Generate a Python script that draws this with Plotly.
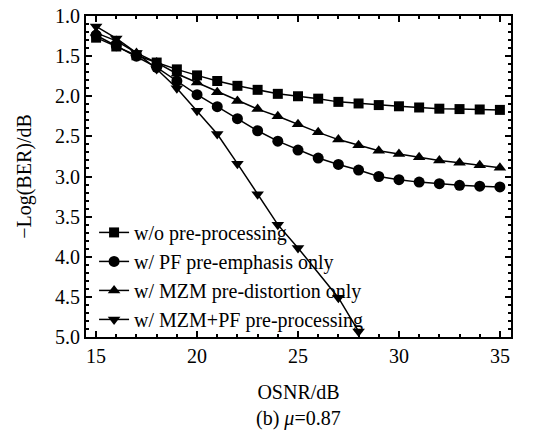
import plotly.graph_objects as go

osnr = list(range(15, 36))

wo_pre = [1.27, 1.38, 1.49, 1.58, 1.665, 1.74, 1.81, 1.87, 1.92, 1.97, 2.00, 2.03,
          2.07, 2.09, 2.11, 2.125, 2.14, 2.155, 2.16, 2.165, 2.17]
pf_only = [1.24, 1.37, 1.50, 1.64, 1.81, 1.98, 2.13, 2.28, 2.43, 2.56, 2.67, 2.77,
           2.85, 2.92, 3.00, 3.04, 3.07, 3.09, 3.11, 3.12, 3.13]
mzm_only = [1.21, 1.31, 1.46, 1.58, 1.72, 1.83, 1.95, 2.06, 2.16, 2.25, 2.35, 2.45,
            2.54, 2.61, 2.68, 2.72, 2.76, 2.80, 2.83, 2.86, 2.89]
mzm_pf_x = [15, 16, 17, 18, 19, 20, 21, 22, 23, 24, 25, 26, 27, 28]
mzm_pf = [1.13, 1.28, 1.46, 1.66, 1.90, 2.18, 2.47, 2.84, 3.22, 3.60, 3.89, None, 4.51, 4.93]

names = ["w/o pre-processing", "w/ PF pre-emphasis only",
         "w/ MZM pre-distortion only", "w/ MZM+PF pre-processing"]
symbols = ["square", "circle", "triangle-up", "triangle-down"]

FONT = "Liberation Serif, Times New Roman, serif"
fig = go.Figure()
series = [(osnr, wo_pre), (osnr, pf_only), (osnr, mzm_only), (mzm_pf_x, mzm_pf)]
for (xs, ys), nm, sym in zip(series, names, symbols):
    fig.add_trace(go.Scatter(
        x=xs, y=ys, name=nm, mode="lines+markers", connectgaps=True,
        line=dict(color="black", width=1.5),
        marker=dict(symbol=sym, size=11 if sym != "square" else 10, color="black"),
    ))

axis_common = dict(
    showline=True, linecolor="black", linewidth=2, mirror="allticks",
    ticks="inside", ticklen=6, tickwidth=1.5, tickcolor="black",
    showgrid=False, zeroline=False, automargin=False,
    tickfont=dict(family=FONT, size=20, color="black"),
)
fig.update_xaxes(range=[14.5, 35.55], tickvals=[15, 20, 25, 30, 35],
                 minor=dict(dtick=1, tick0=15, ticks="inside", ticklen=3, tickcolor="black", tickwidth=1.5),
                 title=dict(text="OSNR/dB", font=dict(family=FONT, size=20, color="black"), standoff=19),
                 **axis_common)
fig.update_yaxes(range=[5.0, 1.0], tickvals=[1.0, 1.5, 2.0, 2.5, 3.0, 3.5, 4.0, 4.5, 5.0],
                 tickformat=".1f",
                 minor=dict(dtick=0.1, tick0=1.0, ticks="inside", ticklen=3, tickcolor="black", tickwidth=1.5),
                 title=dict(text="−Log(BER)/dB", font=dict(family=FONT, size=20, color="black"), standoff=18),
                 **axis_common)

fig.add_annotation(text="(b) <i>μ</i>=0.87", xref="paper", yref="paper",
                   x=0.5, y=-0.253, yanchor="middle", showarrow=False,
                   font=dict(family=FONT, size=20, color="black"))

fig.update_layout(
    width=553, height=433,
    margin=dict(l=86, r=42, t=16, b=96),
    paper_bgcolor="white", plot_bgcolor="white",
    font=dict(family=FONT, size=20, color="black"),
    showlegend=True,
    legend=dict(x=0.019, y=-0.006, xanchor="left", yanchor="bottom",
                bgcolor="rgba(0,0,0,0)", font=dict(family=FONT, size=20, color="black"),
                tracegroupgap=0, itemwidth=30),
)

fig.write_html("out.html", config={"displayModeBar": False},
               post_script="document.body.style.margin='0';document.body.style.overflow='hidden';")
